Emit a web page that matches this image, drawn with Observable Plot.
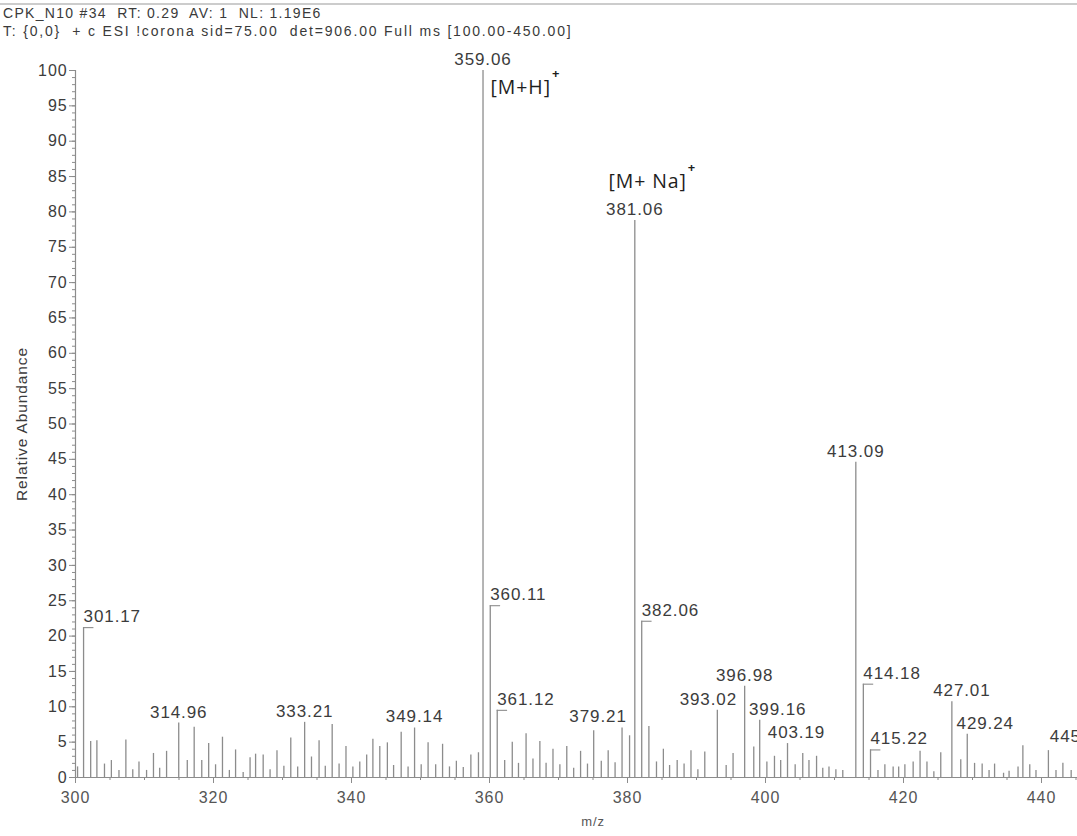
<!DOCTYPE html>
<html>
<head>
<meta charset="utf-8">
<script src="https://cdn.jsdelivr.net/npm/d3@7"></script>
<script src="https://cdn.jsdelivr.net/npm/@observablehq/plot@0.6"></script>
<style>
  html, body { margin: 0; padding: 0; background: #fff; overflow: hidden; width: 1077px; height: 836px; }
  #header { position: relative; height: 40px; font-family: "Liberation Sans", Arial, sans-serif; font-size: 14px; color: #3a3a3a; }
  #header .rule { position: absolute; left: 0; top: 3px; width: 1077px; height: 2px; background: #cccccc; }
  #header .l1 { position: absolute; left: 3px; top: 5px; letter-spacing: 1.3px; white-space: pre; }
  #header .l2 { position: absolute; left: 3px; top: 23px; letter-spacing: 1.8px; white-space: pre; }
  #chart { width: 1115px; }
  #chart svg { display: block; max-width: none !important; width: 1115px; height: 796px; }
</style>
</head>
<body>
<div id="header">
  <div class="rule"></div>
  <div class="l1">CPK_N10 #34  RT: 0.29  AV: 1  NL: 1.19E6</div>
  <div class="l2">T: {0,0}  + c ESI !corona sid=75.00  det=906.00 Full ms [100.00-450.00]</div>
</div>
<div id="chart"></div>
<script>
// Centroid peaks: m/z and relative abundance (%)
const mz = [
  300.3, 301.17, 302.2, 303.1, 304.2, 305.2, 306.3, 307.3, 308.3, 309.2,
  310.3, 311.3, 312.2, 313.2, 314.96, 316.2, 317.2, 318.3, 319.3, 320.3,
  321.3, 322.3, 323.2, 324.3, 325.3, 326.1, 327.2, 328.2, 329.2, 330.2,
  331.2, 332.2, 333.21, 334.2, 335.3, 336.2, 337.2, 338.2, 339.2, 340.2,
  341.2, 342.2, 343.1, 344.1, 345.2, 346.1, 347.2, 348.2, 349.14, 350.1,
  351.1, 352.2, 353.2, 354.2, 355.2, 356.2, 357.3, 358.4, 359.06, 360.11,
  361.12, 362.2, 363.3, 364.2, 365.3, 366.3, 367.3, 368.2, 369.2, 370.2,
  371.2, 372.2, 373.2, 374.2, 375.1, 376.2, 377.2, 378.2, 379.21, 380.3,
  381.06, 382.06, 383.1, 384.2, 385.2, 386.1, 387.2, 388.2, 389.2, 390.2,
  391.2, 393.02, 394.3, 395.3, 396.98, 398.3, 399.16, 400.2, 401.3, 402.2,
  403.19, 404.3, 405.4, 406.3, 407.4, 408.3, 409.2, 410.2, 411.2, 413.09,
  414.18, 415.22, 416.3, 417.3, 418.5, 419.3, 420.2, 421.4, 422.4, 423.4,
  424.4, 425.4, 427.01, 428.3, 429.24, 430.3, 431.4, 432.4, 433.2, 434.5,
  435.3, 436.6, 437.3, 438.3, 439.2, 441.0, 442.1, 443.1, 444.3, 445.36
];
const abundance = [
  1.5, 21.2, 5.1, 5.2, 1.9, 2.4, 1.0, 5.3, 1.1, 2.2,
  1.0, 3.4, 1.3, 3.7, 7.7, 2.4, 7.1, 2.4, 4.8, 1.8,
  5.7, 1.0, 3.9, 0.7, 2.8, 3.3, 3.2, 1.1, 3.8, 1.6,
  5.6, 1.5, 7.8, 2.9, 5.2, 1.6, 7.5, 1.9, 4.4, 1.5,
  2.2, 3.2, 5.4, 4.4, 4.9, 1.7, 6.4, 1.5, 7.0, 1.8,
  4.9, 1.8, 4.7, 1.5, 2.3, 1.4, 3.2, 3.5, 100, 24.3,
  9.5, 2.4, 5.0, 2.0, 6.2, 2.6, 5.1, 2.0, 4.0, 1.8,
  4.4, 1.3, 3.7, 1.9, 6.6, 2.3, 3.8, 2.1, 7.0, 5.9,
  78.8, 22.1, 7.2, 2.2, 4.0, 1.7, 2.4, 1.9, 3.8, 1.1,
  3.6, 9.5, 1.7, 3.4, 12.9, 4.3, 8.1, 2.2, 3.0, 2.4,
  4.8, 1.8, 3.4, 2.4, 3.0, 1.3, 1.5, 1.1, 1.0, 44.6,
  13.2, 3.9, 1.0, 1.8, 1.5, 1.5, 1.8, 2.2, 3.7, 2.2,
  0.8, 3.5, 10.7, 2.5, 6.1, 2.0, 1.9, 1.0, 1.9, 0.6,
  0.9, 1.5, 4.5, 1.8, 1.0, 3.8, 1.0, 2.0, 1.0, 4.3
];

// Peaks carrying an m/z label
const labeledMz = [
  301.17, 314.96, 333.21, 349.14, 359.06, 360.11, 361.12, 379.21, 381.06, 382.06,
  393.02, 396.98, 399.16, 403.19, 413.09, 414.18, 415.22, 427.01, 429.24, 445.36
];
// Labels written to the right of a short leader line
const leaderMz = [301.17, 360.11, 361.12, 382.06, 414.18, 415.22];

// Ion annotations
const ionText = ["[M+H]", "[M+ Na]"];
const ionMz = [368.9, 388.6];
const ionY = [97.6, 84.3];

// Axis titles
const xTitle = "m/z";
const yTitle = "Relative Abundance";

// Tick values
const yMajor = d3.range(0, 101, 5);
const yMinor = d3.range(0, 101, 1);
const xMajor = d3.range(300, 441, 20);
const xMinor = d3.range(300, 451, 5);

const peaks = mz.map((m, i) => ({mz: m, ab: abundance[i]}));
const labeled = peaks
  .filter(p => labeledMz.includes(p.mz))
  .map(p => ({...p, label: p.mz.toFixed(2), leader: leaderMz.includes(p.mz)}));
const ions = ionText.map((t, i) => ({text: t, mz: ionMz[i], y: ionY[i]}));

// label nudges (px) for centred labels pushed aside by neighbours
const nudge = {"379.21": -24, "393.02": -9, "399.16": 18, "403.19": 9, "427.01": 10, "429.24": 18};

const font = "'Liberation Sans', Arial, sans-serif";
const ionFont = "'Open Sans', 'Noto Sans', sans-serif";
const ink = "#3c3c3c";
const lineGray = "#8c8c8c";

const labelMarks = labeled.map(d => Plot.text([d], {
  x: "mz", y: "ab", text: "label",
  textAnchor: d.leader ? "start" : "middle",
  dx: d.leader ? 0 : (nudge[d.label] ?? 0),
  dy: -11, fontSize: 17, fill: ink, fontFamily: font
}));

const chart = Plot.plot({
  width: 1115,
  height: 796,
  marginLeft: 75,
  marginRight: 5,
  marginTop: 30,
  marginBottom: 59,
  x: {domain: [300, 450]},
  y: {domain: [0, 100]},
  style: {fontFamily: font, fontSize: "16px", color: ink, background: "#fff", overflow: "visible", letterSpacing: "0.9px"},
  marks: [
    // axes
    Plot.axisY({ticks: yMinor, tickSize: 3, text: null, label: null, stroke: lineGray}),
    Plot.axisY({ticks: yMajor, tickSize: 6, tickPadding: 2, stroke: lineGray, fill: ink, label: null}),
    Plot.axisX({ticks: xMinor, tickSize: 3, text: null, label: null, stroke: lineGray}),
    Plot.axisX({ticks: xMajor, tickSize: 6, tickPadding: 8, stroke: lineGray, fill: "#555", label: null}),
    Plot.ruleX([300], {stroke: lineGray, strokeWidth: 1.2}),
    Plot.ruleY([0], {stroke: lineGray, strokeWidth: 1.2}),
    Plot.text([xTitle], {frameAnchor: "bottom", textAnchor: "middle", dy: 48, fontSize: 13, fill: "#555"}),
    Plot.text([yTitle], {frameAnchor: "left", textAnchor: "middle", dx: -53, rotate: -90, fontSize: 15.5, fill: ink}),
    // spectrum sticks
    Plot.ruleX(peaks, {x: "mz", y1: 0, y2: "ab", stroke: lineGray, strokeWidth: 1.3}),
    // leader lines for side labels
    Plot.ruleY(labeled.filter(d => d.leader), {y: "ab", x1: "mz", x2: d => d.mz + 1.5, stroke: lineGray, strokeWidth: 1.1}),
    ...labelMarks,
    // ion annotations
    Plot.text(ions, {x: "mz", y: "y", text: "text", textAnchor: "end", fontSize: 19.5, fill: "#1e1e1e",
      fontFamily: ionFont, style: {letterSpacing: "0.3px"}}),
    Plot.text(ions, {x: "mz", y: "y", text: () => "+", textAnchor: "start", dx: 1, dy: -14, fontSize: 13,
      fontWeight: "bold", fill: "#1e1e1e", fontFamily: ionFont})
  ]
});
document.getElementById("chart").appendChild(chart);
</script>
</body>
</html>
